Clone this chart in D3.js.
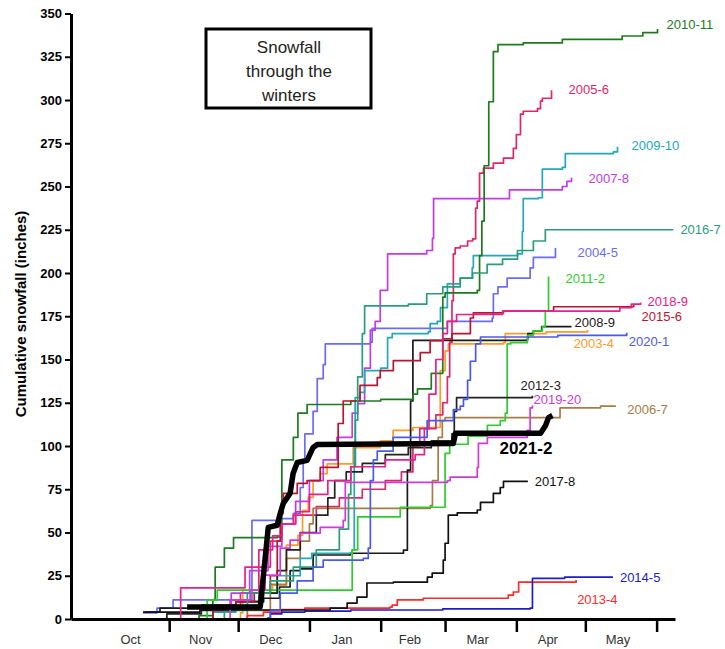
<!DOCTYPE html>
<html>
<head>
<meta charset="utf-8">
<script src="https://cdn.jsdelivr.net/npm/d3@7"></script>
<style>
  body { margin: 0; background: #fff; }
  text { font-family: "Liberation Sans", Arial, sans-serif; }
</style>
</head>
<body>
<svg id="chart" width="725" height="649"></svg>
<script>
// x values are days since Oct 1, y values cumulative inches
const seasons = ["2003-4", "2004-5", "2005-6", "2006-7", "2007-8", "2008-9", "2009-10",
  "2010-11", "2011-2", "2012-3", "2013-4", "2014-5", "2015-6", "2016-7", "2017-8",
  "2018-9", "2019-20", "2020-1", "2021-2"];

const seasonColors = ["#ff9a2a", "#6b6bf5", "#e0266b", "#a57c48", "#c43ae8", "#1a1a1a", "#22a8b8",
  "#1e7a1e", "#2ecc2e", "#222222", "#ff2a2a", "#1c1cc8", "#b81530", "#2a9d78", "#111111",
  "#e8208a", "#d03ad8", "#4a5ae8", "#000000"];

const s2003_4 = [[55,0],[62,3.5],[63,16.7],[76,19.6],[82,42.7],[87,48.4],[89,62.8],[91.5,70.3],[93.6,80],[96.7,84],[99.7,89.7],[111,99],[122.8,103],[128.4,109],[137,110.7],[148.9,143.6],[151,155],[152.4,159],[176.4,159.7],[177.2,165],[195,166],[213,167]];
const s2004_5 = [[19.6,3.5],[25.7,6.3],[32.7,11],[67,57],[78,58],[85,61],[88,76],[89.3,91.7],[90,107],[93.6,120],[95.4,139],[98,147],[98.9,159],[118.5,160],[119.3,168],[152,172],[171.5,174],[172,188],[174,192],[178,197],[188,203],[189.4,209],[199,214.5]];
const s2005_6 = [[40,0],[50,6],[62,15],[70,30],[75,45],[80,55],[85,60],[95,65],[105,70],[115,75],[125,80],[132,85],[137,100],[140,110],[147,118],[150,125],[152,140],[153,160],[154,184],[154.6,211],[155.4,214.5],[157.6,215.6],[160.8,218.5],[163,219.7],[164.3,237.5],[165,241.6],[166,257.7],[167.7,260.6],[172,263.5],[176.4,266.4],[180.7,272],[182,280],[183.8,291.8],[185,293.5],[191.2,295],[192.5,299.3],[193.3,301],[197.3,305.6]];
const s2006_7 = [[55,0],[65,5],[75,20],[82,35],[88,45],[92,55],[93.6,64],[144.6,65.5],[145.5,80],[148,105],[149.8,114.7],[151,116.4],[199.6,116.4],[201,122],[218.6,123],[225,123.4]];
const s2007_8 = [[-3,0],[42,0],[50,5],[58,15],[66,28],[74,42],[80,55],[86,68],[92,80],[98,92],[104,105],[110.6,119],[113,124.5],[116,145],[118.5,167],[120.6,172],[122.8,190],[126,211],[143,213],[145.5,220],[146,243],[179,248],[202,250],[204,253],[206,255]];
const s2008_9 = [[20.5,4],[27,6.3],[45,8],[60,10],[72,12],[79,18.5],[83.6,28],[88,29],[93.6,37],[109.8,38],[132.9,39.8],[134.6,86],[136,126],[137,161],[186.8,162],[187,165],[189.4,166.6],[193,169],[206,169]];
const s2009_10 = [[35,0],[50,4],[60,8],[70,15],[78,25],[88,35],[93,38],[110.6,40],[111.5,100],[111.9,128],[114,131],[116,143.6],[123,145],[126,162.6],[128,165],[143.7,166],[144.5,170.7],[147.6,172],[149,180],[152,193.7],[157.6,197],[162.8,203],[163.3,210],[182.5,211],[184.6,224],[185,243],[191.6,243.5],[193.3,260],[202,261],[203.3,269],[224.2,270],[226,273]];
const s2010_11 = [[20,0],[44,2],[50,11],[51,30],[55,41],[59,47],[78,47.5],[80,92],[85,105],[87,119],[91,124],[110,126],[123,127],[137,130],[139,133],[145,142],[150,186],[151,188.5],[165,190],[166,210],[167,230],[168,262],[170,299],[172,328],[174,332],[185,333],[202,335],[228,337],[237,339],[243.4,341]];
const s2011_2 = [[40,0],[47.5,10.9],[51.9,16.7],[109,16.7],[110.6,40],[113,59],[131.5,64.6],[151,95.7],[153,101],[161,105.7],[169.4,112],[175,114.7],[177.2,119],[178,159],[179.5,159.7],[186.8,164],[189.4,166.6],[193.3,169],[194.6,178],[196,198]];
const s2012_3 = [[20,0],[30,3],[45,5],[60,10],[72,15],[78,28],[82,40],[88,50],[95,60],[100,70],[103,80],[108,85],[115,90],[125,95],[135,99],[145,103],[154,107],[155,120],[156,128],[189,129]];
const s2013_4 = [[60,0],[65,2],[72,4],[80,5.5],[90,6.3],[127,6.9],[128,8],[130.2,11],[141.5,12],[178.5,13.8],[180.7,15.6],[183,21.3],[208,22.5]];
const s2014_5 = [[73,0],[75,3],[80,4],[90,4.6],[110,5.2],[150,5.8],[188,6.3],[189,23.5],[203,24.2],[224,24.2]];
const s2015_6 = [[40,0],[50,5],[60,10],[68,15],[75,25],[78,45],[79.3,61],[80.6,72.6],[86.7,78.4],[91,80],[96.7,87.6],[104.5,113],[106.7,126],[114,135],[121.5,139.5],[122.8,143.6],[128.5,149.3],[140.2,154],[144.5,160.9],[150.2,162],[154,165],[162,174],[163.3,177],[176.4,178],[198.2,180.5],[233,181.6]];
const s2016_7 = [[40,0],[55,5],[65,15],[75,22],[85,30],[95,40],[105,52],[109,72],[110,88],[112,115],[113,140],[115,165],[116,181],[135,182],[143,188],[150,192],[157.6,197],[163,200],[169.3,205],[176,208],[182.5,213],[189.4,218.5],[194.6,225],[250.3,225]];
const s2017_8 = [[19.6,4],[44.4,5.2],[88,5.2],[101,6.3],[108.4,9.2],[112.7,12.7],[117,20.8],[128.5,21.3],[143.3,24.2],[145.4,26.5],[150.2,34],[151,43.8],[152.4,60],[156.3,61.3],[165,63],[166.4,67.4],[172,72.6],[175,76],[176.4,79.6],[187,79.6]];
const s2018_9 = [[30,0],[36,18],[62,18],[64,30],[70,40],[76,48],[80,55],[86,62],[92,72],[100,80],[110,88],[125,92],[138,95],[142,110],[144,130],[147,150],[150,165],[152,172],[156,176],[176,178],[227,180],[232,182],[236,183]];
const s2019_20 = [[-3,0],[50,0],[57.5,10.9],[66.2,16.7],[72.7,25.4],[79.3,41],[83.6,45.6],[88,49.6],[96.7,53],[106.7,57],[107.6,79],[152,80],[153.2,82],[165,87.6],[165.5,101.5],[169.4,105],[186.8,109],[188,122],[189,123.4]];
const s2020_1 = [[73.6,0.6],[75,5],[79.3,15],[86.7,22],[93.6,30],[98,34],[115.4,35],[117.6,41],[118.5,80],[119.8,92],[121.5,97],[128.4,105],[143.2,114.7],[154.6,121],[157.6,123],[159,127],[160.8,138],[162,149],[164.3,159],[166.4,163],[200,164],[230,165.5]];
const s2021_2 = [[38.8,6.9],[70.6,6.9],[74.1,53],[78,54.2],[79.3,61],[80.6,66.8],[83.6,72.6],[84.9,84.1],[86.7,90.5],[91,91.7],[93.6,99.2],[95.4,100.9],[154.6,101.5],[155.5,107.3],[192.5,107.3],[194.7,111.9],[196,116.4],[197.7,117.6]];

const seasonValues = [s2003_4, s2004_5, s2005_6, s2006_7, s2007_8, s2008_9, s2009_10,
  s2010_11, s2011_2, s2012_3, s2013_4, s2014_5, s2015_6, s2016_7, s2017_8,
  s2018_9, s2019_20, s2020_1, s2021_2];

const months = ["Oct", "Nov", "Dec", "Jan", "Feb", "Mar", "Apr", "May"];
const monthStarts = [0, 31, 61, 92, 123, 151, 182, 212, 243];
const yTicks = d3.range(0, 351, 25);

// label nudges (px) from each line's last point
const labelOffsets = [[-14,13],[22,5],[17,-1],[12,4],[17,1],[3,-4],[14,-1],
  [9,-5],[17,2],[-12,-10],[1,19],[7,0],[8,12],[7,0],[7,0],
  [7,-1],[1,-6],[2,9],[-53,32]];

const svg = d3.select("#chart");

const x = d3.scaleLinear().domain([-11.7, 251]).range([71, 675]);
const y = d3.scaleLinear().domain([0, 350]).range([619, 13.5]);

// title box
const box = svg.append("g");
box.append("rect")
  .attr("x", 206).attr("y", 29).attr("width", 165).attr("height", 79)
  .attr("fill", "#fff").attr("stroke", "#000").attr("stroke-width", 3);
["Snowfall", "through the", "winters"].forEach((t, i) => {
  box.append("text")
    .attr("x", 289).attr("y", 53 + i * 24)
    .attr("text-anchor", "middle")
    .attr("font-size", 17).attr("fill", "#222")
    .text(t);
});

// season lines
const thin = d3.line().x(d => x(d[0])).y(d => y(d[1])).curve(d3.curveStepAfter);
const thick = d3.line().x(d => x(d[0])).y(d => y(d[1]));

seasons.forEach((name, i) => {
  const vals = seasonValues[i];
  const isCurrent = name === "2021-2";
  svg.append("path")
    .datum(vals)
    .attr("d", isCurrent ? thick : thin)
    .attr("fill", "none")
    .attr("stroke", seasonColors[i])
    .attr("stroke-width", isCurrent ? 5.5 : 1.7)
    .attr("stroke-linejoin", "round");

  const last = vals[vals.length - 1];
  svg.append("text")
    .attr("x", x(last[0]) + labelOffsets[i][0])
    .attr("y", y(last[1]) + labelOffsets[i][1])
    .attr("dy", "0.35em")
    .attr("font-size", isCurrent ? 17 : 13)
    .attr("font-weight", isCurrent ? "bold" : "normal")
    .attr("fill", seasonColors[i])
    .text(name);
});

// y axis
const yAxis = svg.append("g")
  .attr("transform", "translate(71,0)")
  .call(d3.axisLeft(y).tickValues(yTicks).tickSize(6).tickSizeOuter(0).tickPadding(3));
yAxis.select(".domain").attr("stroke-width", 3);
yAxis.selectAll(".tick line").attr("stroke-width", 2);
yAxis.selectAll(".tick text")
  .attr("font-size", 13).attr("font-weight", "bold").attr("fill", "#000")
  .style("font-family", "'Liberation Sans', Arial, sans-serif");

svg.append("text")
  .attr("transform", "translate(21,314) rotate(-90)")
  .attr("text-anchor", "middle")
  .attr("dy", "0.35em")
  .attr("font-size", 15).attr("font-weight", "bold")
  .text("Cumulative snowfall (inches)");

// x axis: ticks at month starts, names between them
const xAxis = svg.append("g")
  .attr("transform", "translate(0,619)")
  .call(d3.axisBottom(x).tickValues(monthStarts.slice(1)).tickSize(13).tickSizeOuter(0).tickFormat(""));
xAxis.select(".domain").attr("stroke-width", 3);
xAxis.selectAll(".tick line").attr("stroke-width", 2.5);

svg.append("g").selectAll("text")
  .data(months)
  .join("text")
  .attr("x", (d, i) => x((monthStarts[i] + monthStarts[i + 1]) / 2) - 3)
  .attr("y", 639)
  .attr("dy", "0.35em")
  .attr("text-anchor", "middle")
  .attr("font-size", 13).attr("fill", "#333")
  .text(d => d);
</script>
</body>
</html>
